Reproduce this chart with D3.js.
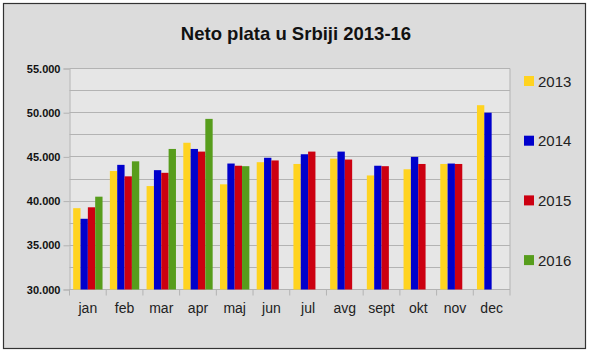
<!DOCTYPE html>
<html>

<head>
    <meta charset='utf-8'>
    <title>Neto plata</title>
    <script type='text/javascript' src='https://cdn.jsdelivr.net/npm/d3@7'></script>
    <style>
        body { margin: 0; background: #fff; }
        text { font-family: 'Liberation Sans', Arial, sans-serif; }
    </style>
</head>

<body>
    <svg width='592' height='352'></svg>
    <script type='text/javascript'>

        const months = ['jan', 'feb', 'mar', 'apr', 'maj', 'jun', 'jul', 'avg', 'sept', 'okt', 'nov', 'dec']
        const years = ['2013', '2014', '2015', '2016']
        const colors = ['#ffd320', '#0000cc', '#cc0011', '#579d1c']

        const v2013 = [39200, 43400, 41700, 46600, 41900, 44400, 44200, 44800, 42900, 43600, 44200, 50850]
        const v2014 = [38000, 44100, 43500, 45900, 44250, 44900, 45300, 45600, 44000, 45000, 44250, 50000]
        const v2015 = [39300, 42800, 43200, 45600, 44000, 44600, 45600, 44700, 43950, 44200, 44200, null]
        const v2016 = [40500, 44500, 45900, 49300, 43950, null, null, null, null, null, null, null]
        const series = [v2013, v2014, v2015, v2016]

        const yTicks = [30000, 35000, 40000, 45000, 50000, 55000]

        const svg = d3.select('svg')
        const margin = { top: 68.5, left: 69.5, bottom: 62.5, right: 82 }
        const innerWidth = 592 - margin.left - margin.right
        const innerHeight = 352 - margin.top - margin.bottom

        // okvir i pozadina
        svg.append('rect')
            .attr('x', 3.5).attr('y', 3.5)
            .attr('width', 582).attr('height', 345)
            .attr('fill', '#dcdcdc')
            .attr('stroke', '#333').attr('stroke-width', 1.2)

        svg.append('text')
            .attr('x', 296).attr('y', 40)
            .attr('text-anchor', 'middle')
            .style('font-size', '18.5px').style('font-weight', 'bold')
            .attr('fill', '#111')
            .text('Neto plata u Srbiji 2013-16')

        const g = svg.append('g')
            .attr('transform', `translate(${margin.left}, ${margin.top})`)

        const x = d3.scaleBand().domain(months).range([0, innerWidth])
            .paddingInner(0.2).paddingOuter(0.1)
        const xSub = d3.scaleBand().domain(years).range([0, x.bandwidth()])
        const y = d3.scaleLinear().domain([30000, 55000]).range([innerHeight, 0])

        g.append('rect')
            .attr('width', innerWidth).attr('height', innerHeight)
            .attr('fill', '#e6e6e6')

        // mreza svakih 2500
        g.selectAll('.grid').data(d3.range(30000, 55001, 2500)).enter()
            .append('line')
            .attr('x1', 0).attr('x2', innerWidth)
            .attr('y1', d => Math.round(y(d)))
            .attr('y2', d => Math.round(y(d)))
            .attr('stroke', '#b3b3b3').attr('stroke-width', 1)

        // y osa
        const yAxis = d3.axisLeft(y).tickValues(yTicks).tickSize(6).tickPadding(3)
            .tickFormat(d => d3.format(',')(d).replace(',', '.'))
        const yg = g.append('g').call(yAxis)
        yg.select('.domain').attr('stroke', '#b3b3b3')
        yg.selectAll('.tick line').attr('stroke', '#b3b3b3')
        yg.selectAll('text').style('font-size', '11px').style('font-weight', 'bold')
            .attr('fill', '#111').style('font-family', "'Liberation Sans', Arial, sans-serif")

        // x osa: crtice na granicama kategorija
        const bounds = d3.range(months.length + 1).map(i => i * x.step())
        g.selectAll('.xtick').data(bounds).enter()
            .append('line')
            .attr('x1', d => d).attr('x2', d => d)
            .attr('y1', innerHeight).attr('y2', innerHeight + 6)
            .attr('stroke', '#b3b3b3')
        g.append('line')
            .attr('x1', innerWidth).attr('x2', innerWidth)
            .attr('y1', 0).attr('y2', innerHeight)
            .attr('stroke', '#b3b3b3')

        g.selectAll('.xlabel').data(months).enter()
            .append('text')
            .attr('x', d => x(d) + x.bandwidth() / 2)
            .attr('y', innerHeight + 23)
            .attr('text-anchor', 'middle')
            .style('font-size', '14px')
            .attr('fill', '#222')
            .text(d => d)

        // stubici
        const bars = []
        series.forEach((vals, si) => {
            vals.forEach((v, mi) => {
                if (v !== null) bars.push({ month: months[mi], year: years[si], value: v, color: colors[si] })
            })
        })
        g.selectAll('.bar').data(bars).enter()
            .append('rect')
            .attr('x', d => x(d.month) + xSub(d.year))
            .attr('y', d => y(d.value))
            .attr('width', xSub.bandwidth())
            .attr('height', d => y(30000) - y(d.value))
            .attr('fill', d => d.color)

        // legenda
        const legend = svg.selectAll('.legend').data(years).enter()
            .append('g')
            .attr('transform', (d, i) => `translate(524, ${76 + i * 59.7})`)
        legend.append('rect')
            .attr('width', 10).attr('height', 10)
            .attr('fill', (d, i) => colors[i])
        legend.append('text')
            .attr('x', 14).attr('y', 10.5)
            .style('font-size', '15px')
            .attr('fill', '#222')
            .text(d => d)

    </script>
</body>

</html>
